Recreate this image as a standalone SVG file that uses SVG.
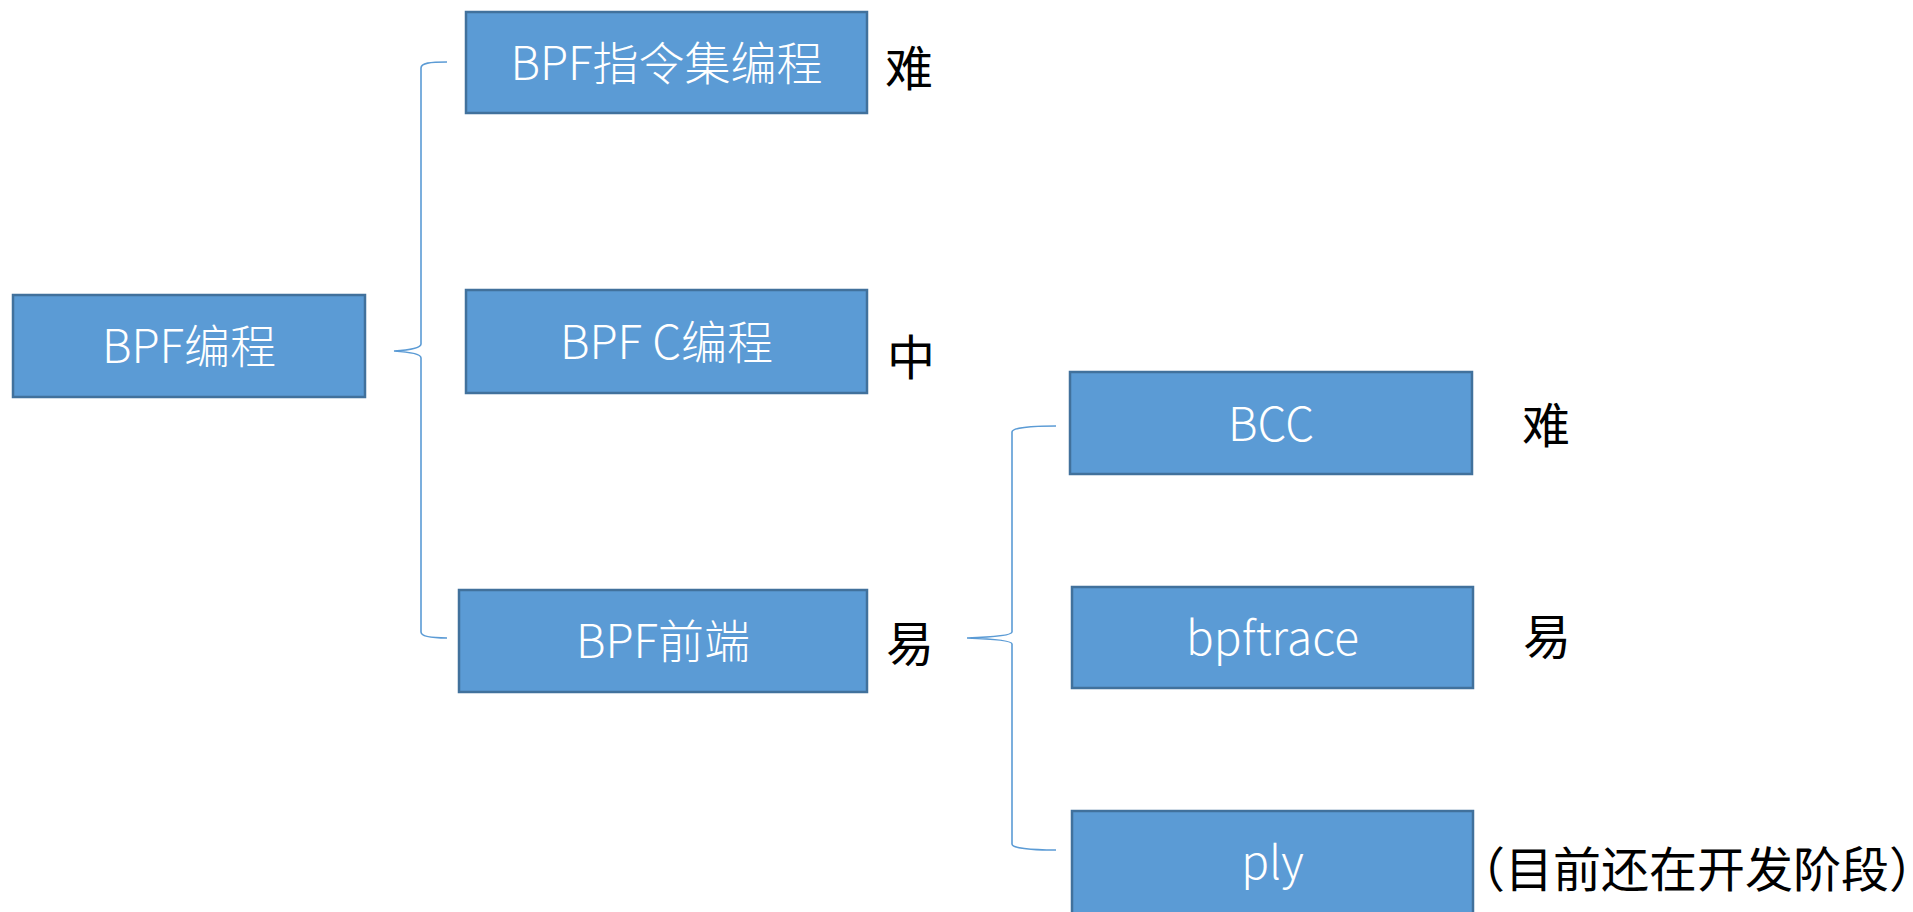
<svg xmlns="http://www.w3.org/2000/svg" width="1913" height="912" viewBox="0 0 1913 912">
<style>
.box{fill:#5B9BD5;stroke:#41719C;stroke-width:2.5}
.bt{font-family:"Noto Sans CJK SC","Noto Sans",sans-serif;font-weight:300;font-size:46px;fill:#FFFFFF;text-anchor:middle}
.lb{font-family:"Noto Sans CJK SC","Noto Sans",sans-serif;font-size:48px;fill:#000000}
.br{fill:none;stroke:#5B9BD5;stroke-width:1.6}
</style>
<rect width="1913" height="912" fill="#FFFFFF"/>
<g id="connectors">
<path class="br" d="M447,62 C430,62 421,63 421,68 L421,344 C421,348 410,350 394,351 C410,352 421,354 421,358 L421,632 C421,636 430,638 447,638"/>
<path class="br" d="M1056,426 C1030,426 1012,428 1012,432 L1012,632 C1012,635 995,637 967,638 C995,639 1012,641 1012,644 L1012,844 C1012,848 1030,850 1056,850"/>
</g>
<g id="node-bpf">
<rect class="box" x="13" y="295" width="352" height="102"/>
<text class="bt" x="189" y="363">BPF编程</text>
</g>
<g id="node-insn">
<rect class="box" x="466" y="12" width="401" height="101"/>
<text class="bt" x="666.5" y="80">BPF指令集编程</text>
</g>
<g id="node-c">
<rect class="box" x="466" y="290" width="401" height="103"/>
<text class="bt" x="666.5" y="359">BPF C编程</text>
</g>
<g id="node-front">
<rect class="box" x="459" y="590" width="408" height="102"/>
<text class="bt" x="663" y="658">BPF前端</text>
</g>
<g id="node-bcc">
<rect class="box" x="1070" y="372" width="402" height="102"/>
<text class="bt" x="1271" y="441">BCC</text>
</g>
<g id="node-bpftrace">
<rect class="box" x="1072" y="587" width="401" height="101"/>
<text class="bt" x="1272.5" y="655">bpftrace</text>
</g>
<g id="node-ply">
<rect class="box" x="1072" y="811" width="401" height="110"/>
<text class="bt" x="1272.5" y="879">ply</text>
</g>
<g id="labels">
<text class="lb" x="885" y="86">难</text>
<text class="lb" x="887" y="375">中</text>
<text class="lb" x="886" y="661">易</text>
<text class="lb" x="1522" y="443">难</text>
<text class="lb" x="1523" y="654">易</text>
<text class="lb" x="1457" y="887">（目前还在开发阶段）</text>
</g>
</svg>
